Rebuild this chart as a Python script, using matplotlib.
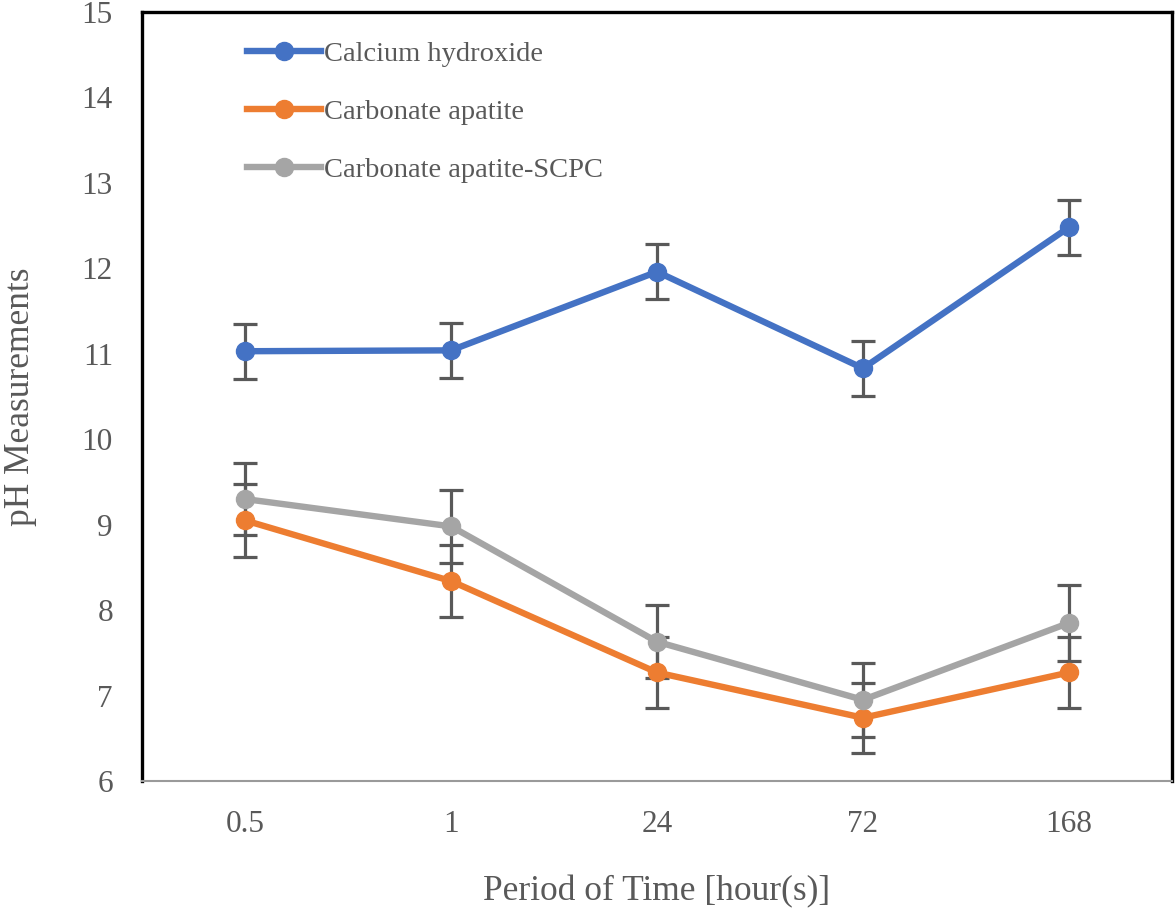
import numpy as np
import matplotlib
matplotlib.use('Agg')
import matplotlib.pyplot as plt

plt.rcParams['font.family'] = ['Liberation Serif', 'DejaVu Serif']

# data
times = ['0.5', '1', '24', '72', '168']
calcium = [11.03, 11.04, 11.96, 10.83, 12.48]
calcium_err = [0.32, 0.32, 0.32, 0.32, 0.32]
carb = [9.05, 8.34, 7.27, 6.74, 7.27]
carb_err = [0.43, 0.42, 0.41, 0.41, 0.42]
scpc = [9.30, 8.98, 7.63, 6.95, 7.85]
scpc_err = [0.42, 0.43, 0.43, 0.43, 0.44]

names = ['Calcium hydroxide', 'Carbonate apatite', 'Carbonate apatite-SCPC']
colors = ['#4472C4', '#ED7D31', '#A5A5A5']
txt = '#595959'

fig = plt.figure(figsize=(11.75, 9.09), dpi=100)
ax = fig.add_axes([0.1209, 0.1408, 0.8765, 0.846])

x = np.arange(len(times))
for vals, err, name, col in zip([calcium, carb, scpc], [calcium_err, carb_err, scpc_err], names, colors):
    ax.errorbar(x, vals, yerr=err, fmt='none', ecolor='#595959', elinewidth=2.3,
                capsize=8.5, capthick=2.3, zorder=2)
    ax.plot(x, vals, '-o', color=col, lw=4.6, ms=13, label=name, zorder=3)

ax.set_xlim(-0.5, 4.5)
ax.set_ylim(6, 15)
ax.set_xticks(x)
ax.set_xticklabels(times)
ax.set_yticks(range(6, 16))
ax.tick_params(axis='both', length=0, labelsize=22.5, labelcolor=txt)
ax.tick_params(axis='x', pad=21)
ax.tick_params(axis='y', pad=21)

for s in ['top', 'left', 'right']:
    ax.spines[s].set_color('black')
    ax.spines[s].set_linewidth(2.4)
ax.spines['bottom'].set_color('#9a9a9a')
ax.spines['bottom'].set_linewidth(1.5)

ax.set_xlabel('Period of Time [hour(s)]', fontsize=25.5, color=txt, labelpad=26)
ax.set_ylabel('pH Measurements', fontsize=25.5, color=txt, labelpad=32)

leg = ax.legend(loc='upper left', bbox_to_anchor=(0.077, 0.996), frameon=False,
                fontsize=20.5, handlelength=2.6, handletextpad=0.12, labelspacing=1.13,
                labelcolor=txt)

fig.savefig('out.png', dpi=100)
